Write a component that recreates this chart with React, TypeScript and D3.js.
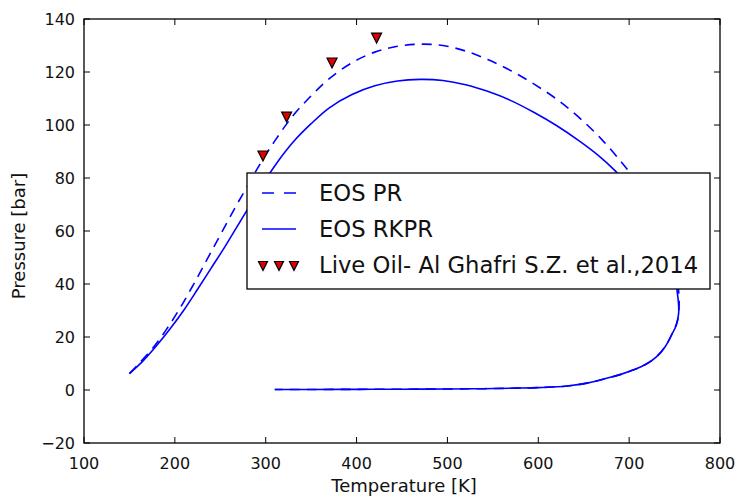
import React from "react";
import * as d3 from "d3";

const W = 738;
const H = 499;
const M = { left: 84, right: 720, top: 19, bottom: 443 };

const xTicks = [100, 200, 300, 400, 500, 600, 700, 800];
const yTicks = [-20, 0, 20, 40, 60, 80, 100, 120, 140];

const lowerT = [747, 740, 730, 718, 705, 690, 676, 655, 632, 600, 576, 540, 503, 450, 400, 350, 310];
const lowerP = [21, 16.5, 12.5, 9.6, 7.6, 5.8, 4.5, 2.7, 1.5, 0.9, 0.7, 0.5, 0.4, 0.3, 0.25, 0.2, 0.2];

const prT = [150, 160, 175, 190, 205, 220, 235, 250, 265, 280, 295, 310, 330, 350, 370, 395, 420, 445, 470, 495, 520, 545, 570, 595, 620, 645, 670, 690, 705, 720, 733, 743, 750, 754, 755, 753, ...lowerT];
const prP = [6.2, 9.8, 15.5, 22.5, 30.5, 39.5, 49, 58.5, 68, 77, 86, 94, 103.5, 111, 117.5, 123.5, 127.5, 129.7, 130.5, 130, 127.9, 124.6, 120.5, 115.5, 109.8, 102.8, 94.5, 86.6, 80, 72, 63.5, 55, 47, 39, 32, 26, ...lowerP];

const rkT = [150, 165, 180, 195, 210, 225, 240, 255, 270, 285, 300, 315, 330, 350, 370, 395, 420, 445, 470, 495, 520, 545, 570, 595, 620, 645, 665, 685, 700, 715, 728, 738, 746, 751, 754, 754.5, 752, ...lowerT];
const rkP = [6.2, 11, 16.8, 23.2, 30.2, 38, 46, 54, 62.5, 71, 79.5, 87, 93.5, 100.5, 106.5, 111.5, 114.8, 116.6, 117.2, 116.8, 115.2, 112.6, 109.2, 104.8, 99.8, 94, 88.8, 82.6, 77, 70.5, 63, 56, 48, 41, 34, 29, 24.5, ...lowerP];

const obsT = [297, 323, 373, 422];
const obsP = [88.3, 103, 123.4, 132.8];

const seriesNames = ["EOS PR", "EOS RKPR", "Live Oil- Al Ghafri S.Z. et al.,2014"];
const xLabel = "Temperature [K]";
const yLabel = "Pressure [bar]";

const FONT = "'DejaVu Sans', sans-serif";

export default function App() {
  const x = d3.scaleLinear().domain([100, 800]).range([M.left, M.right]);
  const y = d3.scaleLinear().domain([-20, 140]).range([M.bottom, M.top]);

  const line = d3
    .line<[number, number]>()
    .x((d) => x(d[0]))
    .y((d) => y(d[1]))
    .curve(d3.curveCatmullRom.alpha(0.5));

  const pr = line(prT.map((t, i) => [t, prP[i]]));
  const rk = line(rkT.map((t, i) => [t, rkP[i]]));

  const tri = (cx: number, cy: number, s = 5) =>
    `M${cx},${cy + s}L${cx - s},${cy - s}L${cx + s},${cy - s}Z`;

  const tickLen = 6;
  const leg = { x: 247, y: 173, w: 463, h: 116 };
  const rowY = [193, 229, 265];

  return (
    <svg width={W} height={H} style={{ position: "absolute", left: 0, top: 0, background: "#fff" }}>
      <rect x={0} y={0} width={W} height={H} fill="#fff" />
      <defs>
        <clipPath id="plotclip">
          <rect x={M.left} y={M.top} width={M.right - M.left} height={M.bottom - M.top} />
        </clipPath>
      </defs>
      <g clipPath="url(#plotclip)">
        <path d={pr || ""} fill="none" stroke="#0000ff" strokeWidth={1.6} strokeDasharray="10,7" />
        <path d={rk || ""} fill="none" stroke="#0000ff" strokeWidth={1.6} />
        {obsT.map((t, i) => (
          <path key={i} d={tri(x(t), y(obsP[i]))} fill="#e00000" stroke="#000" strokeWidth={1.2} />
        ))}
      </g>
      {xTicks.map((t) => (
        <g key={"x" + t}>
          <line x1={x(t)} x2={x(t)} y1={M.bottom} y2={M.bottom - tickLen} stroke="#000" />
          <line x1={x(t)} x2={x(t)} y1={M.top} y2={M.top + tickLen} stroke="#000" />
          <text x={x(t)} y={469} textAnchor="middle" fontFamily={FONT} fontSize={16} fill="#111">
            {t}
          </text>
        </g>
      ))}
      {yTicks.map((t) => (
        <g key={"y" + t}>
          <line x1={M.left} x2={M.left + tickLen} y1={y(t)} y2={y(t)} stroke="#000" />
          <line x1={M.right} x2={M.right - tickLen} y1={y(t)} y2={y(t)} stroke="#000" />
          <text x={75} y={y(t)} dy="0.35em" textAnchor="end" fontFamily={FONT} fontSize={16} fill="#111">
            {t < 0 ? "\u2212" + Math.abs(t) : t}
          </text>
        </g>
      ))}
      <rect
        x={M.left}
        y={M.top}
        width={M.right - M.left}
        height={M.bottom - M.top}
        fill="none"
        stroke="#000"
        strokeWidth={1.3}
      />
      <rect x={leg.x} y={leg.y} width={leg.w} height={leg.h} fill="#fff" stroke="#000" strokeWidth={1.3} />
      <line x1={262} x2={296} y1={rowY[0]} y2={rowY[0]} stroke="#0000ff" strokeWidth={1.6} strokeDasharray="12,10" />
      <line x1={262} x2={296} y1={rowY[1]} y2={rowY[1]} stroke="#0000ff" strokeWidth={1.6} />
      {[263, 279, 294].map((cx, i) => (
        <path key={i} d={tri(cx, rowY[2] + 1, 4.5)} fill="#e00000" stroke="#000" strokeWidth={1.2} />
      ))}
      {seriesNames.map((n, i) => (
        <text key={n} x={319} y={rowY[i]} dy="0.36em" fontFamily={FONT} fontSize={22.7} fill="#111">
          {n}
        </text>
      ))}
      <text x={404} y={492} textAnchor="middle" fontFamily={FONT} fontSize={18} fill="#111">
        {xLabel}
      </text>
      <text
        transform={`translate(25,236) rotate(-90)`}
        textAnchor="middle"
        fontFamily={FONT}
        fontSize={18}
        fill="#111"
      >
        {yLabel}
      </text>
    </svg>
  );
}
